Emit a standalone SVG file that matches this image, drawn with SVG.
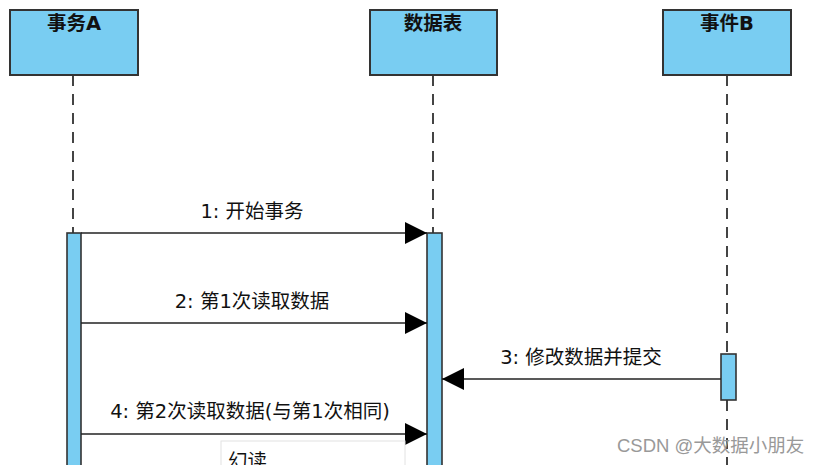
<svg xmlns="http://www.w3.org/2000/svg" width="823" height="465" viewBox="0 0 823 465">
<style>
.box{fill:#79cdf2;stroke:#333;stroke-width:2}
.act{fill:#79cdf2;stroke:#333;stroke-width:1.6}
.life{stroke:#444;stroke-width:2;stroke-dasharray:11 8;fill:none}
.msg{stroke:#222;stroke-width:1.6;fill:none}
.title{font-family:"DejaVu Sans","Noto Sans CJK SC",sans-serif;font-size:19.5px;font-weight:600;fill:#111;text-anchor:middle}
.lbl{font-family:"DejaVu Sans","Noto Sans CJK SC",sans-serif;font-size:19.5px;fill:#111;text-anchor:middle}
</style>
<defs>
<marker id="ah" markerWidth="22" markerHeight="22" refX="22" refY="11" orient="auto" markerUnits="userSpaceOnUse">
<path d="M0,0 L22,11 L0,22 Z" fill="#000"/>
</marker>
</defs>
<rect width="823" height="465" fill="#fff"/>
<g id="lifelines">
<line class="life" x1="73" y1="75" x2="73" y2="233"/>
<line class="life" x1="433" y1="75" x2="433" y2="233"/>
<line class="life" x1="727" y1="75" x2="727" y2="354"/>
<line class="life" x1="727" y1="400" x2="727" y2="465"/>
</g>
<g id="node-A">
<rect class="box" x="10" y="10" width="128" height="65"/>
<text class="title" x="74" y="30">事务A</text>
<rect class="act" x="67" y="233" width="14" height="240"/>
</g>
<g id="node-table">
<rect class="box" x="370" y="10" width="127" height="65"/>
<text class="title" x="433" y="30">数据表</text>
<rect class="act" x="427" y="233" width="15" height="240"/>
</g>
<g id="node-B">
<rect class="box" x="663" y="10" width="128" height="65"/>
<text class="title" x="727" y="30">事件B</text>
<rect class="act" x="721" y="354" width="15" height="46"/>
</g>
<g id="connectors">
<line class="msg" x1="81" y1="233" x2="427" y2="233" marker-end="url(#ah)"/>
<text class="lbl" x="252" y="218">1: 开始事务</text>
<line class="msg" x1="81" y1="323" x2="427" y2="323" marker-end="url(#ah)"/>
<text class="lbl" x="252" y="308">2: 第1次读取数据</text>
<line class="msg" x1="721" y1="379" x2="442" y2="379" marker-end="url(#ah)"/>
<text class="lbl" x="581" y="364">3: 修改数据并提交</text>
<line class="msg" x1="81" y1="434" x2="427" y2="434" marker-end="url(#ah)"/>
<text class="lbl" x="250" y="418">4: 第2次读取数据(与第1次相同)</text>
</g>
<g id="note">
<rect x="221" y="441" width="184" height="40" fill="#fff" stroke="#e2e2e2" stroke-width="1"/>
<text x="228" y="468" font-family="DejaVu Sans,Noto Sans CJK SC,sans-serif" font-size="19.5" fill="#111">幻读</text>
</g>
<text x="617" y="452" font-family="Liberation Sans,Noto Sans CJK SC,sans-serif" font-size="18.5" fill="#999">CSDN @大数据小朋友</text>
</svg>
